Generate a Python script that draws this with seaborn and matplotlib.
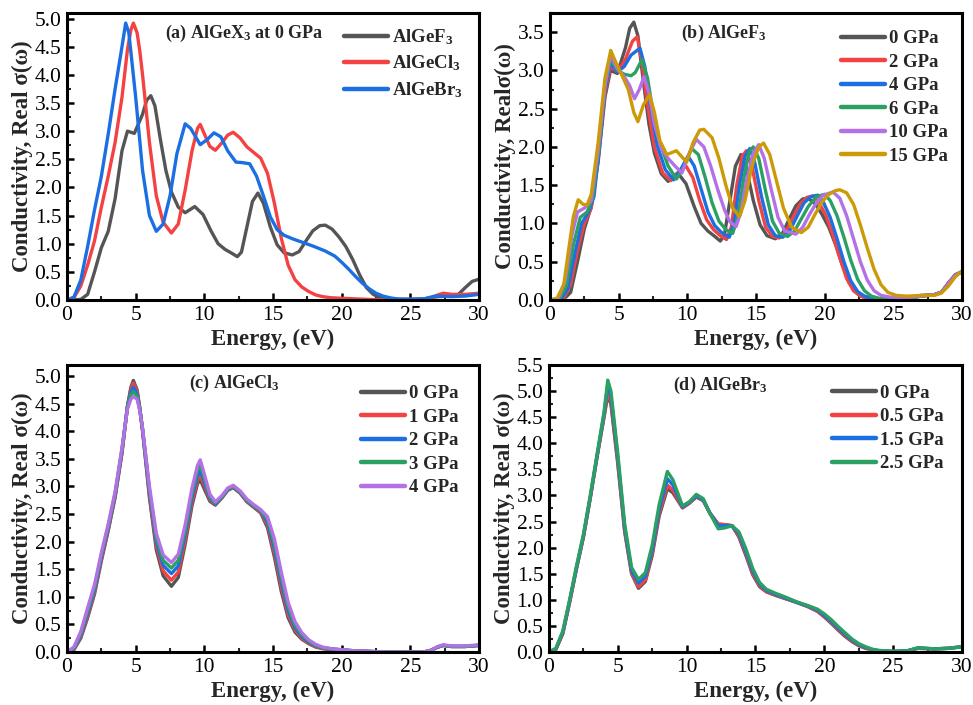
import pandas as pd
import matplotlib
matplotlib.use("Agg")
import matplotlib.pyplot as plt
import seaborn as sns
from matplotlib.ticker import MultipleLocator, FormatStrFormatter

# AlGeF3: (energy eV, Real sigma) pairs, one list per pressure
f_0gpa = [(0, 0), (1.0, 0.01), (1.5, 0.1), (2.0, 0.5), (2.5, 0.93), (3.0, 1.22), (3.5, 1.8), (4.0, 2.65),
          (4.4, 3.0), (4.9, 2.96), (5.5, 3.3), (5.8, 3.55), (6.1, 3.63), (6.4, 3.45), (6.8, 2.85), (7.2, 2.3),
          (7.6, 1.92), (8.1, 1.65), (8.6, 1.55), (9.3, 1.66), (9.9, 1.52), (10.5, 1.22), (11.0, 1.0), (11.5, 0.9),
          (12.0, 0.83), (12.4, 0.77), (12.7, 0.85), (13.1, 1.3), (13.5, 1.75), (13.9, 1.9), (14.3, 1.72),
          (14.8, 1.3), (15.3, 0.98), (15.8, 0.84), (16.4, 0.8), (16.9, 0.86), (17.4, 1.05), (17.9, 1.23),
          (18.4, 1.32), (18.8, 1.33), (19.3, 1.26), (19.8, 1.12), (20.3, 0.95), (20.8, 0.72), (21.3, 0.45),
          (21.8, 0.22), (22.3, 0.1), (22.8, 0.04), (24.0, 0.01), (26.0, 0.02), (27.0, 0.06), (28.0, 0.07),
          (28.5, 0.1), (29.0, 0.22), (29.5, 0.33), (30.0, 0.37)]
f_2gpa = [(0, 0), (1.0, 0.02), (1.5, 0.2), (2.0, 0.65), (2.5, 1.0), (3.0, 1.2), (3.5, 1.85), (4.0, 2.7),
          (4.4, 3.05), (4.9, 2.98), (5.5, 3.15), (6.0, 3.38), (6.35, 3.44), (6.7, 3.1), (7.1, 2.55), (7.6, 2.0),
          (8.2, 1.66), (8.8, 1.56), (9.4, 1.68), (9.9, 1.75), (10.4, 1.6), (10.9, 1.3), (11.4, 1.05), (11.9, 0.92),
          (12.4, 0.84), (12.85, 0.79), (13.2, 0.95), (13.6, 1.5), (14.0, 1.88), (14.3, 1.95), (14.7, 1.75),
          (15.2, 1.3), (15.7, 0.95), (16.2, 0.83), (16.7, 0.81), (17.2, 0.9), (17.7, 1.08), (18.2, 1.25),
          (18.7, 1.34), (19.15, 1.36), (19.6, 1.27), (20.1, 1.1), (20.6, 0.85), (21.1, 0.55), (21.6, 0.28),
          (22.1, 0.12), (22.6, 0.05), (23.2, 0.02), (24.5, 0.01), (26.0, 0.02), (27.0, 0.05), (28.0, 0.07),
          (28.5, 0.1), (29.0, 0.22), (29.5, 0.32), (30.0, 0.37)]
f_4gpa = [(0, 0), (0.8, 0.01), (1.3, 0.15), (1.8, 0.6), (2.3, 1.0), (2.8, 1.15), (3.2, 1.35), (3.6, 2.0),
          (4.0, 2.75), (4.4, 3.1), (4.9, 2.98), (5.4, 3.05), (5.9, 3.2), (6.55, 3.29), (6.9, 3.05), (7.3, 2.55),
          (7.8, 2.02), (8.4, 1.7), (9.0, 1.57), (9.5, 1.7), (10.05, 1.88), (10.5, 1.75), (11.0, 1.45),
          (11.5, 1.15), (12.0, 0.97), (12.5, 0.88), (13.05, 0.82), (13.4, 1.0), (13.8, 1.5), (14.2, 1.88),
          (14.55, 1.98), (14.9, 1.8), (15.4, 1.35), (15.9, 0.98), (16.4, 0.84), (16.95, 0.82), (17.5, 0.92),
          (18.0, 1.1), (18.5, 1.27), (19.0, 1.35), (19.5, 1.37), (19.9, 1.28), (20.4, 1.08), (20.9, 0.8),
          (21.4, 0.5), (21.9, 0.25), (22.4, 0.11), (22.9, 0.05), (23.5, 0.02), (25.0, 0.01), (26.0, 0.02),
          (27.0, 0.05), (28.0, 0.07), (28.5, 0.1), (29.0, 0.21), (29.5, 0.32), (30.0, 0.37)]
f_6gpa = [(0, 0), (0.7, 0.01), (1.2, 0.2), (1.7, 0.72), (2.2, 1.08), (2.7, 1.15), (3.1, 1.33), (3.6, 2.05),
          (4.0, 2.8), (4.4, 3.15), (4.9, 3.0), (5.4, 2.95), (5.9, 2.93), (6.2, 2.97), (6.7, 3.14), (7.1, 2.9),
          (7.5, 2.45), (8.0, 2.05), (8.6, 1.75), (9.2, 1.58), (9.7, 1.72), (10.3, 1.98), (10.8, 1.9),
          (11.3, 1.6), (11.8, 1.27), (12.3, 1.03), (12.8, 0.92), (13.3, 0.87), (13.7, 1.1), (14.1, 1.58),
          (14.5, 1.93), (14.8, 2.0), (15.2, 1.85), (15.7, 1.42), (16.2, 1.03), (16.7, 0.87), (17.3, 0.83),
          (17.8, 0.9), (18.3, 1.06), (18.8, 1.22), (19.4, 1.35), (20.0, 1.38), (20.4, 1.3), (20.9, 1.1),
          (21.4, 0.82), (21.9, 0.52), (22.4, 0.27), (22.9, 0.12), (23.4, 0.05), (24.0, 0.02), (25.0, 0.01),
          (26.0, 0.02), (27.0, 0.05), (28.0, 0.07), (28.5, 0.1), (29.0, 0.21), (29.5, 0.32), (30.0, 0.37)]
f_10gpa = [(0, 0), (0.6, 0.02), (1.1, 0.25), (1.6, 0.85), (2.0, 1.15), (2.5, 1.2), (3.0, 1.3), (3.5, 1.95),
           (4.0, 2.8), (4.4, 3.2), (4.9, 3.02), (5.4, 2.92), (5.8, 2.8), (6.15, 2.63), (6.5, 2.75), (6.85, 2.92),
           (7.2, 2.7), (7.6, 2.3), (8.1, 1.98), (8.6, 1.85), (9.1, 1.75), (9.6, 1.66), (10.1, 1.9), (10.65, 2.1),
           (11.2, 2.0), (11.7, 1.75), (12.2, 1.45), (12.7, 1.18), (13.1, 1.02), (13.55, 0.96), (13.9, 1.15),
           (14.3, 1.55), (14.8, 1.92), (15.2, 2.03), (15.6, 1.85), (16.1, 1.45), (16.6, 1.08), (17.1, 0.9),
           (17.9, 0.86), (18.4, 0.95), (18.9, 1.12), (19.4, 1.27), (19.9, 1.37), (20.6, 1.41), (21.1, 1.33),
           (21.6, 1.1), (22.1, 0.8), (22.6, 0.5), (23.1, 0.26), (23.6, 0.12), (24.1, 0.06), (25.0, 0.03),
           (26.0, 0.03), (27.0, 0.05), (28.0, 0.07), (28.5, 0.1), (29.0, 0.21), (29.5, 0.32), (30.0, 0.37)]
f_15gpa = [(0, 0), (0.5, 0.02), (1.0, 0.2), (1.35, 0.65), (1.7, 1.09), (2.05, 1.31), (2.4, 1.25), (2.7, 1.24),
           (3.0, 1.38), (3.5, 2.05), (4.0, 2.9), (4.42, 3.26), (4.8, 3.1), (5.2, 2.95), (5.7, 2.75), (6.1, 2.45),
           (6.4, 2.33), (6.8, 2.55), (7.25, 2.68), (7.6, 2.45), (8.0, 2.08), (8.5, 1.9), (9.2, 1.95), (9.95, 1.8),
           (10.4, 2.05), (10.9, 2.22), (11.2, 2.23), (11.8, 2.12), (12.3, 1.85), (12.8, 1.5), (13.3, 1.2),
           (13.8, 1.09), (14.2, 1.3), (14.7, 1.75), (15.2, 2.0), (15.55, 2.05), (16.0, 1.9), (16.5, 1.55),
           (17.0, 1.2), (17.6, 0.95), (18.3, 0.88), (18.8, 0.95), (19.3, 1.12), (19.8, 1.28), (20.3, 1.38),
           (20.8, 1.43), (21.1, 1.44), (21.6, 1.4), (22.1, 1.25), (22.6, 0.98), (23.1, 0.68), (23.6, 0.4),
           (24.1, 0.2), (24.6, 0.1), (25.2, 0.06), (26.0, 0.05), (27.0, 0.06), (28.0, 0.06), (28.5, 0.09),
           (29.0, 0.18), (29.5, 0.3), (30.0, 0.38)]
f_labels = ["0 GPa", "2 GPa", "4 GPa", "6 GPa", "10 GPa", "15 GPa"]

# AlGeCl3, shared energy grid
cl_energy = [0, 0.5, 1.0, 1.5, 2.0, 2.5, 3.0, 3.5, 4.0, 4.4, 4.65, 4.83, 5.1, 5.3, 5.5, 6.0, 6.5, 7.0, 7.6, 8.1,
             8.6, 9.1, 9.5, 9.7, 10.0, 10.4, 10.8, 11.3, 11.7, 12.1, 12.6, 13.1, 13.6, 14.1, 14.6, 15.1, 15.6,
             16.1, 16.6, 17.1, 17.6, 18.1, 18.6, 19.2, 20, 21, 22, 23, 26, 26.5, 27, 27.4, 28, 29, 30]
cl_0gpa = [0, 0.04, 0.25, 0.62, 1.05, 1.65, 2.2, 2.8, 3.6, 4.45, 4.8, 4.92, 4.75, 4.42, 4.0, 2.8, 1.85, 1.38, 1.19,
           1.35, 1.95, 2.65, 3.05, 3.12, 2.95, 2.73, 2.66, 2.8, 2.93, 2.98, 2.88, 2.72, 2.62, 2.52, 2.25, 1.72,
           1.1, 0.62, 0.36, 0.23, 0.15, 0.09, 0.06, 0.04, 0.03, 0.02, 0.01, 0.0, 0.0, 0.03, 0.09, 0.12, 0.1, 0.1,
           0.12]
cl_1gpa = [0, 0.05, 0.27, 0.65, 1.08, 1.68, 2.22, 2.82, 3.62, 4.45, 4.77, 4.87, 4.72, 4.41, 4.02, 2.85, 1.93, 1.47,
           1.3, 1.45, 2.03, 2.72, 3.12, 3.2, 3.02, 2.76, 2.67, 2.8, 2.93, 2.98, 2.88, 2.73, 2.63, 2.53, 2.3, 1.8,
           1.18, 0.68, 0.4, 0.25, 0.16, 0.1, 0.07, 0.05, 0.03, 0.02, 0.01, 0.0, 0.0, 0.03, 0.09, 0.12, 0.1, 0.1,
           0.12]
cl_2gpa = [0, 0.06, 0.3, 0.7, 1.12, 1.72, 2.25, 2.85, 3.65, 4.45, 4.72, 4.8, 4.68, 4.4, 4.03, 2.9, 2.0, 1.57,
           1.42, 1.56, 2.12, 2.8, 3.2, 3.28, 3.08, 2.79, 2.68, 2.81, 2.94, 2.99, 2.89, 2.74, 2.64, 2.55, 2.35,
           1.88, 1.27, 0.75, 0.44, 0.28, 0.18, 0.11, 0.08, 0.05, 0.04, 0.02, 0.01, 0.0, 0.0, 0.03, 0.09, 0.12, 0.1,
           0.1, 0.12]
cl_3gpa = [0, 0.07, 0.33, 0.75, 1.17, 1.76, 2.28, 2.88, 3.67, 4.43, 4.66, 4.72, 4.63, 4.38, 4.04, 2.95, 2.07, 1.66,
           1.52, 1.66, 2.2, 2.88, 3.29, 3.38, 3.15, 2.82, 2.7, 2.82, 2.95, 3.0, 2.9, 2.75, 2.65, 2.56, 2.4, 1.96,
           1.36, 0.82, 0.49, 0.31, 0.2, 0.12, 0.08, 0.06, 0.04, 0.02, 0.01, 0.0, 0.0, 0.03, 0.09, 0.12, 0.1, 0.1,
           0.12]
cl_4gpa = [0, 0.09, 0.37, 0.8, 1.22, 1.8, 2.32, 2.9, 3.7, 4.4, 4.58, 4.63, 4.58, 4.37, 4.05, 3.0, 2.15, 1.76,
           1.62, 1.77, 2.3, 2.97, 3.38, 3.48, 3.22, 2.86, 2.72, 2.84, 2.97, 3.02, 2.92, 2.77, 2.67, 2.58, 2.45,
           2.05, 1.45, 0.9, 0.55, 0.35, 0.22, 0.14, 0.09, 0.06, 0.04, 0.02, 0.01, 0.0, 0.0, 0.03, 0.1, 0.13, 0.11,
           0.11, 0.13]
cl_labels = ["0 GPa", "1 GPa", "2 GPa", "3 GPa", "4 GPa"]

# AlGeBr3, shared energy grid
br_energy = [0, 0.5, 1.0, 1.5, 2.0, 2.5, 3.0, 3.5, 4.0, 4.27, 4.5, 5.0, 5.5, 6.0, 6.5, 7.0, 7.5, 8.0, 8.6, 9.0,
             9.7, 10.2, 10.7, 11.2, 11.7, 12.3, 12.8, 13.3, 13.8, 14.3, 14.8, 15.3, 15.8, 16.5, 17.2, 18.0, 18.8,
             19.5, 20.0, 20.5, 21.0, 21.5, 22.0, 22.5, 23.0, 23.5, 24.0, 25.0, 26.0, 26.8, 28.0, 29.0, 30.0]
br_0gpa = [0, 0.05, 0.35, 0.95, 1.6, 2.2, 2.95, 3.75, 4.5, 4.92, 4.75, 3.6, 2.3, 1.5, 1.22, 1.35, 1.85, 2.6, 3.13,
           3.05, 2.76, 2.85, 2.97, 2.9, 2.65, 2.45, 2.44, 2.42, 2.2, 1.85, 1.48, 1.25, 1.15, 1.08, 1.02, 0.95,
           0.87, 0.78, 0.67, 0.55, 0.42, 0.3, 0.2, 0.12, 0.07, 0.04, 0.02, 0.01, 0.02, 0.07, 0.06, 0.07, 0.1]
br_05gpa = [0, 0.05, 0.35, 0.95, 1.6, 2.2, 2.95, 3.75, 4.52, 4.98, 4.8, 3.65, 2.33, 1.52, 1.25, 1.38, 1.9, 2.65,
            3.2, 3.1, 2.77, 2.86, 2.98, 2.91, 2.66, 2.45, 2.44, 2.42, 2.22, 1.88, 1.5, 1.27, 1.16, 1.09, 1.02,
            0.95, 0.87, 0.78, 0.68, 0.57, 0.44, 0.32, 0.21, 0.13, 0.08, 0.04, 0.02, 0.01, 0.02, 0.07, 0.06, 0.07, 0.1]
br_15gpa = [0, 0.06, 0.37, 0.98, 1.62, 2.22, 2.97, 3.77, 4.56, 5.1, 4.9, 3.72, 2.38, 1.56, 1.32, 1.45, 1.96, 2.72,
            3.32, 3.2, 2.78, 2.87, 2.99, 2.92, 2.66, 2.42, 2.42, 2.42, 2.26, 1.92, 1.55, 1.3, 1.18, 1.1, 1.03,
            0.95, 0.88, 0.8, 0.7, 0.59, 0.46, 0.34, 0.23, 0.14, 0.09, 0.05, 0.02, 0.01, 0.02, 0.08, 0.06, 0.07, 0.1]
br_25gpa = [0, 0.07, 0.4, 1.0, 1.65, 2.25, 3.0, 3.8, 4.6, 5.21, 5.0, 3.8, 2.45, 1.62, 1.39, 1.52, 2.05, 2.82,
            3.46, 3.3, 2.8, 2.88, 3.02, 2.94, 2.65, 2.36, 2.38, 2.42, 2.3, 1.98, 1.6, 1.33, 1.2, 1.12, 1.05,
            0.96, 0.89, 0.82, 0.73, 0.62, 0.49, 0.37, 0.25, 0.16, 0.1, 0.05, 0.03, 0.01, 0.02, 0.08, 0.06, 0.07, 0.1]
br_labels = ["0 GPa", "0.5 GPa", "1.5 GPa", "2.5 GPa"]

compound_labels = ["AlGeF$_3$", "AlGeCl$_3$", "AlGeBr$_3$"]

colors = ["#555555", "#F44242", "#1B6FE3", "#2BA062", "#B470E6", "#CC9A06"]


def pairs_df(pairs, label):
    d = pd.DataFrame(pairs, columns=["energy", "sigma"])
    d["label"] = label
    return d


def grid_df(energy, values, label):
    return pd.DataFrame({"energy": energy, "sigma": values, "label": label})


# 1. Build long tables for each panel
df_a = pd.concat([pairs_df(f_0gpa, compound_labels[0]),
                  grid_df(cl_energy, cl_0gpa, compound_labels[1]),
                  grid_df(br_energy, br_0gpa, compound_labels[2])])
df_b = pd.concat([pairs_df(p, lab) for p, lab in
                  zip([f_0gpa, f_2gpa, f_4gpa, f_6gpa, f_10gpa, f_15gpa], f_labels)])
df_c = pd.concat([grid_df(cl_energy, v, lab) for v, lab in
                  zip([cl_0gpa, cl_1gpa, cl_2gpa, cl_3gpa, cl_4gpa], cl_labels)])
df_d = pd.concat([grid_df(br_energy, v, lab) for v, lab in
                  zip([br_0gpa, br_05gpa, br_15gpa, br_25gpa], br_labels)])

# 2. Style
sns.set_theme(style="ticks")
plt.rcParams["font.family"] = ["Liberation Serif", "DejaVu Serif"]
plt.rcParams["mathtext.fontset"] = "custom"
plt.rcParams["mathtext.rm"] = "Liberation Serif:bold"
plt.rcParams["mathtext.default"] = "rm"

fig = plt.figure(figsize=(9.73, 7.05), dpi=100)
ax_a = fig.add_axes([0.0689, 0.5745, 0.4234, 0.4071])
ax_b = fig.add_axes([0.5653, 0.5745, 0.4234, 0.4071])
ax_c = fig.add_axes([0.0689, 0.0752, 0.4234, 0.4071])
ax_d = fig.add_axes([0.5642, 0.0752, 0.4245, 0.4071])

panels = [
    (ax_a, df_a, compound_labels, colors[:3], 5.1, "(a) AlGeX$_3$ at 0 GPa", (0.238, 0.93),
     (0.672, 0.95), 0.36, "Conductivity, Real σ(ω)"),
    (ax_b, df_b, f_labels, colors, 3.75, "(b) AlGeF$_3$", (0.318, 0.93),
     (0.706, 0.94), 0.34, "Conductivity, Realσ(ω)"),
    (ax_c, df_c, cl_labels, colors[:5], 5.2, "(c) AlGeCl$_3$", (0.296, 0.935),
     (0.714, 0.93), 0.34, "Conductivity, Real σ(ω)"),
    (ax_d, df_d, br_labels, colors[:4], 5.5, "(d) AlGeBr$_3$", (0.30, 0.93),
     (0.685, 0.932), 0.34, "Conductivity, Real σ(ω)"),
]

for ax, df, labels, pal, ymax, title, tpos, lpos, lspace, ylab in panels:
    sns.lineplot(data=df, x="energy", y="sigma", hue="label", hue_order=labels, palette=pal,
                 estimator=None, sort=False, linewidth=2.4, ax=ax)
    ax.set_xlim(0, 30)
    ax.set_ylim(0, ymax)
    ax.xaxis.set_major_locator(MultipleLocator(5))
    ax.xaxis.set_minor_locator(MultipleLocator(2.5))
    ax.yaxis.set_major_locator(MultipleLocator(0.5))
    ax.yaxis.set_minor_locator(MultipleLocator(0.25))
    ax.yaxis.set_major_formatter(FormatStrFormatter("%.1f"))
    ax.tick_params(which="major", direction="in", length=5, width=1.8, labelsize=15.5,
                   top=False, right=False, pad=4, colors="black")
    ax.tick_params(which="minor", direction="in", length=3, width=1.5, top=False, right=False)
    for s in ax.spines.values():
        s.set_linewidth(2.2)
        s.set_color("black")
    ax.set_xlabel("Energy, (eV)", fontsize=16.5, fontweight="bold", labelpad=3)
    ax.set_ylabel(ylab, fontsize=16.5, fontweight="bold", labelpad=1)
    ax.text(tpos[0], tpos[1], title, transform=ax.transAxes, fontsize=13, fontweight="bold",
            ha="left", va="center")
    sns.move_legend(ax, "upper left", bbox_to_anchor=lpos, frameon=False, title=None,
                    prop={"weight": "bold", "size": 13.5}, handlelength=2.35, handletextpad=0.2,
                    labelspacing=lspace, borderpad=0, borderaxespad=0)
    for h in ax.get_legend().legend_handles:
        h.set_linewidth(3.2)

fig.savefig("out.png", dpi=100)
